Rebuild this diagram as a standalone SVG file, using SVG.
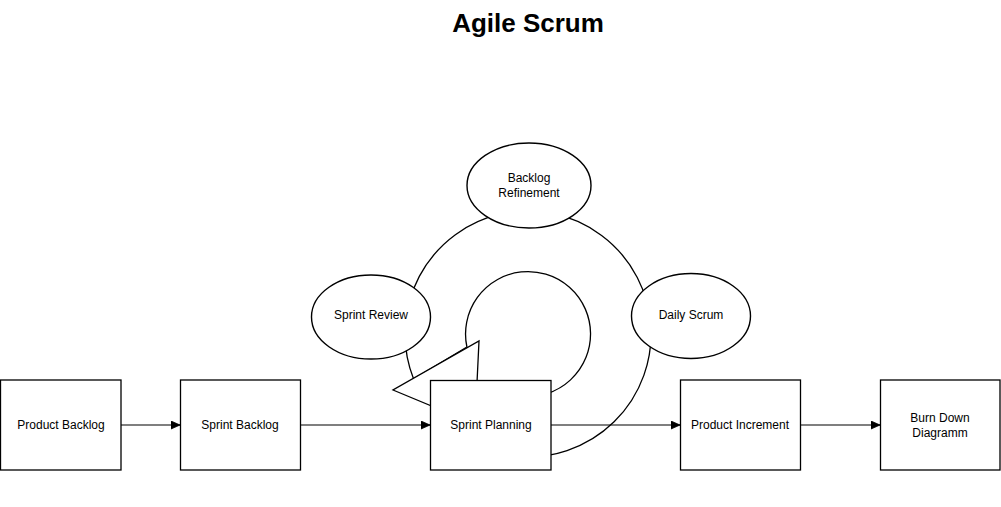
<svg xmlns="http://www.w3.org/2000/svg" width="1001" height="507" viewBox="0 0 1001 507">
  <defs>
    <style>
      .box { fill: #ffffff; stroke: #000000; stroke-width: 1.3; }
      .oval { fill: #ffffff; stroke: #000000; stroke-width: 1.4; }
      .ring { fill: #ffffff; stroke: #000000; stroke-width: 1.3; stroke-linejoin: miter; }
      .edge { fill: none; stroke: #000000; stroke-width: 1.2; }
      .lbl { font-family: "Liberation Sans", Arial, Helvetica, sans-serif; font-size: 12px; fill: #000000; text-anchor: middle; }
      .title { font-family: "Liberation Sans", Arial, Helvetica, sans-serif; font-size: 26px; font-weight: bold; fill: #000000; text-anchor: middle; }
    </style>
    <marker id="arrow" markerUnits="userSpaceOnUse" markerWidth="10" markerHeight="10" refX="9" refY="4" orient="auto">
      <path d="M0,0 L9,4 L0,8 Z" fill="#000000" stroke="#000000" stroke-width="0.8"/>
    </marker>
  </defs>
  <rect x="0" y="0" width="1001" height="507" fill="#ffffff"/>

  <text class="title" x="528" y="32">Agile Scrum</text>

  <g id="cycle-arrow">
    <path class="ring" d="M413.6,379.1 A123,123 0 1 1 517.3,456.5 L522.6,396.3 A62.5,62.5 0 1 0 466.9,347 Z"/>
    <polygon class="ring" points="479,341 475,424 393,390"/>
  </g>

  <g id="connectors">
    <line class="edge" x1="121" y1="425" x2="180" y2="425" marker-end="url(#arrow)"/>
    <line class="edge" x1="300" y1="425" x2="430" y2="425" marker-end="url(#arrow)"/>
    <line class="edge" x1="551" y1="425" x2="680" y2="425" marker-end="url(#arrow)"/>
    <line class="edge" x1="800" y1="425" x2="880" y2="425" marker-end="url(#arrow)"/>
  </g>

  <g id="backlog-refinement">
    <ellipse class="oval" cx="529" cy="185.5" rx="62" ry="42.5"/>
    <text class="lbl" x="529" y="182">Backlog</text>
    <text class="lbl" x="529" y="197">Refinement</text>
  </g>

  <g id="sprint-review">
    <ellipse class="oval" cx="371" cy="317" rx="59.5" ry="42"/>
    <text class="lbl" x="371" y="319">Sprint Review</text>
  </g>

  <g id="daily-scrum">
    <ellipse class="oval" cx="691" cy="316" rx="59.5" ry="42.5"/>
    <text class="lbl" x="691" y="319">Daily Scrum</text>
  </g>

  <g id="product-backlog">
    <rect class="box" x="0.5" y="380" width="120.5" height="90"/>
    <text class="lbl" x="61" y="429">Product Backlog</text>
  </g>

  <g id="sprint-backlog">
    <rect class="box" x="180.5" y="380" width="120" height="90"/>
    <text class="lbl" x="240" y="429">Sprint Backlog</text>
  </g>

  <g id="sprint-planning">
    <rect class="box" x="430.5" y="380.5" width="120.5" height="89.5"/>
    <text class="lbl" x="491" y="429">Sprint Planning</text>
  </g>

  <g id="product-increment">
    <rect class="box" x="680.5" y="380" width="120" height="90"/>
    <text class="lbl" x="740" y="429">Product Increment</text>
  </g>

  <g id="burn-down">
    <rect class="box" x="880.5" y="380" width="119.5" height="90"/>
    <text class="lbl" x="940" y="422">Burn Down</text>
    <text class="lbl" x="940" y="437">Diagramm</text>
  </g>
</svg>
